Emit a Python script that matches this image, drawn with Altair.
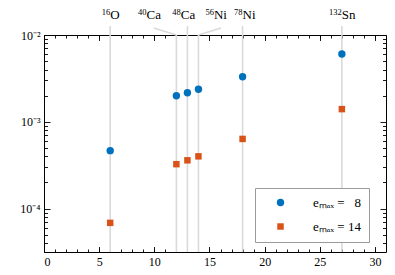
import altair as alt
import pandas as pd

# ---------------- data ----------------
nuclei = ["16O", "40Ca", "48Ca", "56Ni", "78Ni", "132Sn"]
mass_numbers = ["16", "40", "48", "56", "78", "132"]
elements = ["O", "Ca", "Ca", "Ni", "Ni", "Sn"]
x_values = [6, 12, 13, 14, 18, 27]
emax_8 = [4.65e-4, 2.0e-3, 2.16e-3, 2.37e-3, 3.3e-3, 6.05e-3]
emax_14 = [6.85e-5, 3.25e-4, 3.6e-4, 4.0e-4, 6.35e-4, 1.40e-3]
series = ["8", "14"]

x_ticks = [0, 5, 10, 15, 20, 25, 30]
x_minor = list(range(0, 31))
y_ticks = [1e-4, 1e-3, 1e-2]
y_minor = [k * 10.0 ** e for e in (-5, -4, -3) for k in range(2, 10) if k * 10.0 ** e > 3.2e-5]

# ---------------- layout ----------------
W, H = 342, 217
label_x = [6, 9.3, 12.4, 15.4, 18, 27]          # where each nucleus label sits (data units)
leader_from = [None, 9.95, None, 16.05, None, None]  # slanted leader start for shifted labels
FONT = "Liberation Serif"
BLUE, ORANGE = "#0072BD", "#D95319"

points = pd.DataFrame({
    "x": x_values * 2,
    "y": emax_8 + emax_14,
    "emax": [series[0]] * len(x_values) + [series[1]] * len(x_values),
})
labels = pd.DataFrame({"lx": label_x, "mass": mass_numbers, "el": elements})
rules = pd.DataFrame({"x": x_values})
ext = pd.DataFrame({"x": [x for x, l in zip(x_values, leader_from) if l is None]})
diag = pd.DataFrame({"x1": [l for l in leader_from if l is not None],
                     "x2": [x for x, l in zip(x_values, leader_from) if l is not None]})

xs = alt.Scale(domain=[0, 31], nice=False, zero=False)
ys = alt.Scale(type="log", domain=[10 ** -4.5, 1e-2], nice=False)


def ax(orient, values, size, labels=False, offset=0, **kw):
    d = dict(orient=orient, values=values, tickSize=size, labels=labels, domain=False,
             grid=False, title=None, tickColor="black", tickWidth=0.9, offset=offset)
    d.update(kw)
    return alt.Axis(**d)


lab_kw = dict(labelFont=FONT, labelFontSize=12, labelColor="black")
ylabel_expr = ("datum.value < 0.0005 ? '10\u207b\u2074' : "
               "(datum.value < 0.005 ? '10\u207b\u00b3' : '10\u207b\u00b2')")

axis_pairs = [
    (ax("bottom", x_ticks, 0, True, labelPadding=4, **lab_kw),
     ax("left", y_ticks, 0, True, labelPadding=4, labelExpr=ylabel_expr, **lab_kw)),
    (ax("top", x_ticks, 5.5, offset=-H), ax("right", y_ticks, 6, offset=-W)),
    (ax("top", x_minor, 3, offset=-H), ax("right", y_minor, 3.5, offset=-W)),
    (ax("bottom", x_ticks, 5.5, offset=-H), ax("left", y_ticks, 6, offset=-W)),
    (ax("bottom", x_minor, 3, offset=-H), ax("left", y_minor, 3.5, offset=-W)),
]

axis_layers = [
    alt.Chart(points).mark_point(opacity=0).encode(
        x=alt.X("x:Q", scale=xs, axis=xa),
        y=alt.Y("y:Q", scale=ys, axis=ya),
    )
    for xa, ya in axis_pairs
]

grey = dict(color="#dadada", strokeWidth=1.6)
rule_full = alt.Chart(rules).mark_rule(**grey).encode(
    x=alt.X("x:Q", scale=xs, axis=None))
rule_ext = alt.Chart(ext).mark_rule(**grey).encode(
    x=alt.X("x:Q", scale=xs, axis=None), y=alt.value(-9), y2=alt.value(0))
rule_diag = alt.Chart(diag).mark_rule(**grey).encode(
    x=alt.X("x1:Q", scale=xs, axis=None), x2="x2:Q", y=alt.value(-7), y2=alt.value(0))

legend = alt.Legend(
    orient="none", legendX=211, legendY=153, title=None,
    padding=8, fillColor="white", strokeColor="#9a9a9a",
    symbolSize=90, symbolOffset=11, labelOffset=26, rowPadding=10,
    labelFont=FONT, labelFontSize=13, labelColor="black",
    labelExpr="datum.label == '8' ? 'e\u2098\u2090\u2093 = \u20078' : 'e\u2098\u2090\u2093 = 14'",
)

pts = alt.Chart(points).mark_point(filled=True, opacity=1).encode(
    x=alt.X("x:Q", scale=xs, axis=None),
    y=alt.Y("y:Q", scale=ys, axis=None),
    color=alt.Color("emax:N", scale=alt.Scale(domain=series, range=[BLUE, ORANGE]), legend=legend),
    shape=alt.Shape("emax:N", scale=alt.Scale(domain=series, range=["circle", "square"]), legend=legend),
    size=alt.Size("emax:N", scale=alt.Scale(domain=series, range=[55, 42]), legend=None),
)

mass_txt = alt.Chart(labels).mark_text(
    align="right", baseline="alphabetic", font=FONT, fontSize=8.5, color="black"
).encode(x=alt.X("lx:Q", scale=xs, axis=None), y=alt.value(-20.5), text="mass:N")
el_txt = alt.Chart(labels).mark_text(
    align="left", baseline="alphabetic", font=FONT, fontSize=13, color="black"
).encode(x=alt.X("lx:Q", scale=xs, axis=None), y=alt.value(-16), text="el:N")

chart = alt.layer(
    rule_full, rule_ext, rule_diag, *axis_layers, pts, mass_txt, el_txt
).resolve_axis(x="independent", y="independent").properties(
    width=W, height=H,
    autosize=alt.AutoSizeParams(type="none"),
    padding={"left": 36, "top": 27, "right": 1, "bottom": 15},
).configure_view(stroke="black", strokeWidth=1)

chart.save("out.html", embed_options={"renderer": "svg", "actions": False})
